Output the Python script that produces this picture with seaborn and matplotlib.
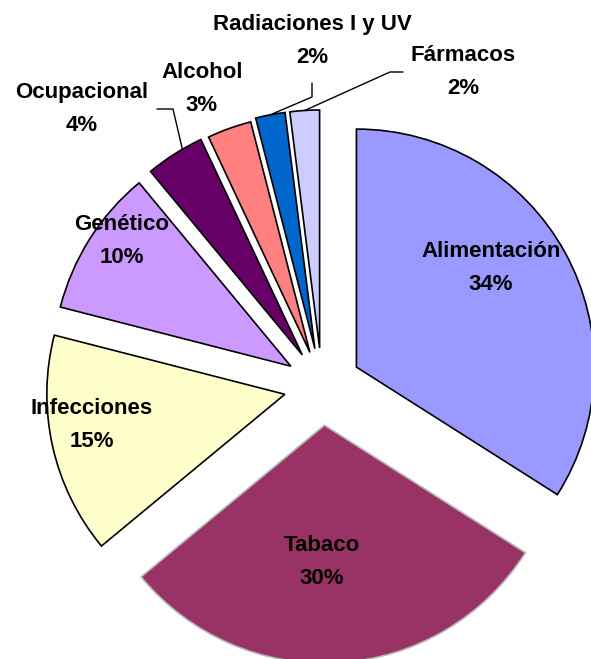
import matplotlib
matplotlib.use("Agg")
import matplotlib.pyplot as plt
import numpy as np
import seaborn as sns

# data
labels = ["Alimentación", "Tabaco", "Infecciones", "Genético",
          "Ocupacional", "Alcohol", "Radiaciones I y UV", "Fármacos"]
values = [34, 30, 15, 10, 4, 3, 2, 2]

colors = ["#9999FF", "#993366", "#FFFFCC", "#CC99FF",
          "#660066", "#FF8080", "#0066CC", "#CCCCFF"]
explode = [0.165, 0.165, 0.16, 0.155, 0.155, 0.15, 0.16, 0.16]

sns.set_style("white")
plt.rcParams["font.family"] = ["Liberation Sans", "DejaVu Sans"]

W, H = 591, 659
R = 238.0           # pie radius in pixels
CX, CY = 322, 386   # pie centre in pixels

fig = plt.figure(figsize=(W / 100, H / 100), dpi=100)
ax = fig.add_axes([0, 0, 1, 1])

wedges, _ = ax.pie(values, colors=colors, explode=explode, startangle=90,
                   counterclock=False, radius=1,
                   wedgeprops=dict(edgecolor="black", linewidth=1.2))
wedges[1].set_edgecolor("#b8b8b8")

xmin = -CX / R
ymax = CY / R
ax.set_xlim(xmin, xmin + W / R)
ax.set_ylim(ymax - H / R, ymax)
ax.set_aspect("auto")
ax.axis("off")


def px(x, y):
    return xmin + x / R, ymax - y / R


# label layout (pixel positions of text centres)
label_pos = [(491, 268), (322, 562), (92, 425), (122, 241),
             (82, 109), (202, 89), (312, 41), (463, 72)]

total = sum(values)
for lab, v, (lx, ly) in zip(labels, values, label_pos):
    tx, ty = px(lx, ly)
    ax.text(tx, ty, f"{lab}\n{round(100 * v / total)}%", ha="center",
            va="center", fontsize=16, fontweight="bold", linespacing=1.8,
            color="black")


def outer_point(w, frac=0.5):
    th = np.deg2rad(w.theta1 + (w.theta2 - w.theta1) * frac)
    cx, cy = w.center
    return cx + w.r * np.cos(th), cy + w.r * np.sin(th)


# leader lines
lw = 1.0
ox, oy = outer_point(wedges[4], 0.35)
p1 = px(157, 109)
p2 = px(173, 109)
ax.plot([p1[0], p2[0], ox], [p1[1], p2[1], oy], color="black", lw=lw)

rx, ry = outer_point(wedges[6], 0.5)
p1 = px(312, 83)
p2 = px(312, 97)
ax.plot([p1[0], p2[0], rx], [p1[1], p2[1], ry], color="black", lw=lw)

fx, fy = outer_point(wedges[7], 0.5)
p1 = px(403, 72)
p2 = px(390, 72)
ax.plot([p1[0], p2[0], fx], [p1[1], p2[1], fy], color="black", lw=lw)

fig.savefig("out.png", dpi=100)
